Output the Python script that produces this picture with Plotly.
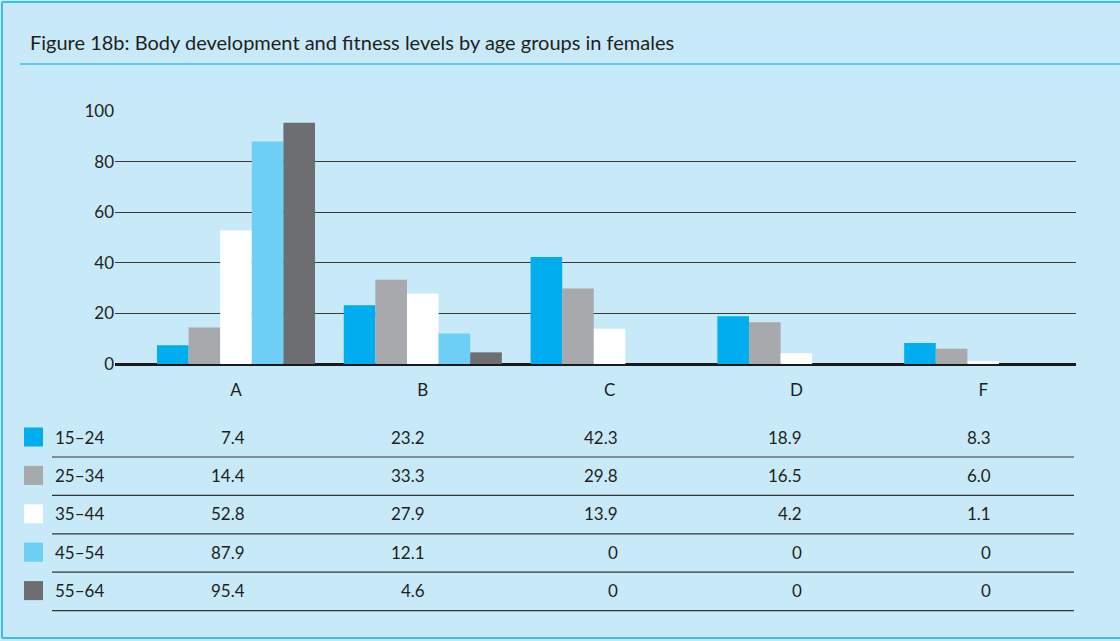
import plotly.graph_objects as go

# ---------------- data ----------------
categories = ["A", "B", "C", "D", "F"]
age_groups = ["15–24", "25–34", "35–44", "45–54", "55–64"]
v_15_24 = [7.4, 23.2, 42.3, 18.9, 8.3]
v_25_34 = [14.4, 33.3, 29.8, 16.5, 6.0]
v_35_44 = [52.8, 27.9, 13.9, 4.2, 1.1]
v_45_54 = [87.9, 12.1, 0, 0, 0]
v_55_64 = [95.4, 4.6, 0, 0, 0]
y_ticks = [0, 20, 40, 60, 80, 100]
title_text = "Figure 18b: Body development and fitness levels by age groups in females"

series = [v_15_24, v_25_34, v_35_44, v_45_54, v_55_64]
colors = ["#00AEEF", "#A7A9AC", "#FFFFFF", "#6DCFF6", "#6D6E71"]

# ---------------- layout geometry (pixels) ----------------
W, H = 1120, 641
L, R, T, B = 115, 44, 111, 277
PW = W - L - R
PH = H - T - B
BG = "#C7E9F8"
TXT = "#231F20"
FONT = "Lato, 'Open Sans', sans-serif"


def px(x):
    return (x - L) / PW


def py(y):
    return (H - B - y) / PH


fig = go.Figure()
for name, vals, col in zip(age_groups, series, colors):
    fig.add_trace(go.Bar(x=categories, y=vals, name=name,
                         marker=dict(color=col, line=dict(width=0)),
                         showlegend=False))

# centres: A at 236px, spacing ~186.8px
step = 186.8
left = (L - 236) / step
right = left + PW / step

fig.update_layout(
    width=W, height=H,
    margin=dict(l=L, r=R, t=T, b=B, pad=0),
    paper_bgcolor=BG, plot_bgcolor=BG,
    barmode="group", bargap=0.154, bargroupgap=0,
    font=dict(family=FONT, color=TXT),
    xaxis=dict(range=[left, right], showgrid=False, showline=False,
               zeroline=False, ticks="", tickfont=dict(size=17, color=TXT),
               ticklabelstandoff=14, fixedrange=True),
    yaxis=dict(range=[0, 100], tickvals=y_ticks, showgrid=True,
               gridcolor="#3A3A3A", gridwidth=1.2, zeroline=True,
               zerolinecolor="#1A1A1A", zerolinewidth=3, showline=False,
               ticks="", tickfont=dict(size=17, color=TXT),
               ticklabelstandoff=0, fixedrange=True),
)

shapes = []
annotations = []

# title & rule
annotations.append(dict(text=title_text, xref="paper", yref="paper",
                        x=px(28), y=py(42), xanchor="left", yanchor="middle",
                        showarrow=False, font=dict(size=20, color=TXT)))
shapes.append(dict(type="line", xref="paper", yref="paper",
                   x0=px(20), x1=px(W), y0=py(64), y1=py(64),
                   line=dict(color="#3CBDEB", width=1.5)))

# outer frame
frame = dict(color="#3CBDEB", width=2)
shapes.append(dict(type="line", xref="paper", yref="paper", x0=px(2), x1=px(2),
                   y0=py(2), y1=py(638), line=frame))
shapes.append(dict(type="line", xref="paper", yref="paper", x0=px(2), x1=px(W),
                   y0=py(2), y1=py(2), line=frame))
shapes.append(dict(type="line", xref="paper", yref="paper", x0=px(2), x1=px(W),
                   y0=py(638), y1=py(638), line=frame))

# data table
value_right_edges = [247, 427, 620, 804, 993]
row_y0 = 437
row_step = 38.4
for i, (name, vals, col) in enumerate(zip(age_groups, series, colors)):
    yc = row_y0 + row_step * i
    shapes.append(dict(type="rect", xref="paper", yref="paper",
                       x0=px(24), x1=px(43), y0=py(yc - 9.5), y1=py(yc + 9.5),
                       fillcolor=col, line=dict(width=0)))
    annotations.append(dict(text=name, xref="paper", yref="paper",
                            x=px(53), y=py(yc), xanchor="left", yanchor="middle",
                            showarrow=False, font=dict(size=17, color=TXT)))
    for xr, v in zip(value_right_edges, vals):
        s = "0" if v == 0 else f"{v:.1f}"
        annotations.append(dict(text=s, xref="paper", yref="paper",
                                x=px(xr), y=py(yc), xanchor="right",
                                yanchor="middle", showarrow=False,
                                font=dict(size=17, color=TXT)))
    yl = yc + 20
    shapes.append(dict(type="line", xref="paper", yref="paper",
                       x0=px(52), x1=px(1074), y0=py(yl), y1=py(yl),
                       line=dict(color="#333333", width=1.2)))

fig.update_layout(shapes=shapes, annotations=annotations)
fig.write_html("out.html", config={"displayModeBar": False},
               post_script="document.body.style.margin='0';document.body.style.overflow='hidden';")
